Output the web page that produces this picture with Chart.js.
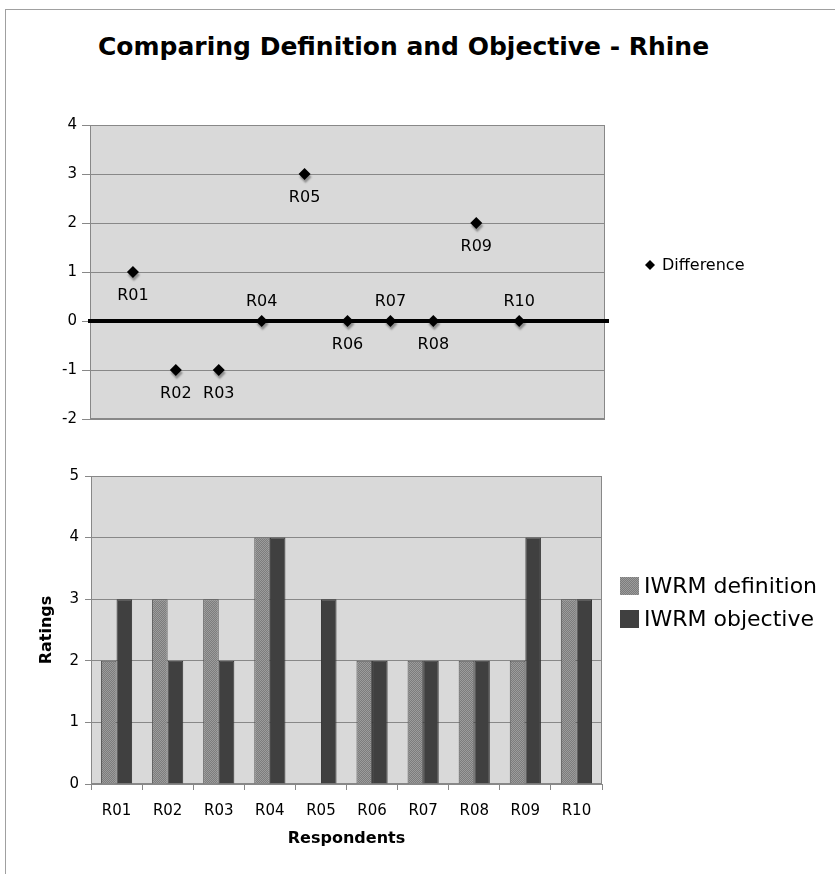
<!DOCTYPE html>
<html>
<head>
<meta charset="utf-8">
<script src="https://cdn.jsdelivr.net/npm/chart.js@4"></script>
<style>
  body { margin: 0; background: #fff; width: 835px; height: 874px; overflow: hidden; position: relative; }
  #frame { position: absolute; left: 5px; top: 9px; width: 900px; height: 900px; border-left: 1px solid #a0a0a0; border-top: 1px solid #a0a0a0; }
  #title { position: absolute; left: 98px; top: 32px; font: bold 25px "DejaVu Sans"; color: #000; white-space: nowrap; }
  #diffWrap { position: absolute; left: 0; top: 0; width: 835px; height: 440px; }
  #barWrap { position: absolute; left: 0; top: 440px; width: 835px; height: 434px; }
</style>
</head>
<body>
<div id="frame"></div>
<div id="title">Comparing Definition and Objective - Rhine</div>
<div id="diffWrap"><canvas id="diffChart" width="835" height="440"></canvas></div>
<div id="barWrap"><canvas id="barChart" width="835" height="434"></canvas></div>

<script>
const respondents = ["R01", "R02", "R03", "R04", "R05", "R06", "R07", "R08", "R09", "R10"];
const difference = [1, -1, -1, 0, 3, 0, 0, 0, 2, 0];
const definition = [2, 3, 3, 4, 0, 2, 2, 2, 2, 3];
const objective = [3, 2, 2, 4, 3, 2, 2, 2, 4, 3];
const diffTicks = [-2, -1, 0, 1, 2, 3, 4];
const ratingTicks = [0, 1, 2, 3, 4, 5];
// where each point label sits relative to its marker
const labelSide = ["below", "below", "below", "above", "below", "below", "above", "below", "below", "above"];

const FONT = '"DejaVu Sans"';
const PLOT_BG = "#d9d9d9";
const GRID = "#888888";

function makeHatch() {
  const c = document.createElement("canvas");
  c.width = 4; c.height = 4;
  const g = c.getContext("2d");
  g.fillStyle = "#9c9c9c";
  g.fillRect(0, 0, 4, 4);
  g.fillStyle = "#7c7c7c";
  for (let i = 0; i < 4; i++) {
    g.fillRect(i, 3 - i, 1, 1);
    g.fillRect(i, (5 - i) % 4, 1, 1);
  }
  return g.createPattern(c, "repeat");
}
const hatch = makeHatch();

function drawPlotBox(chart) {
  const { ctx, chartArea: a } = chart;
  ctx.save();
  ctx.strokeStyle = GRID;
  ctx.lineWidth = 1;
  ctx.strokeRect(a.left + 0.5, a.top + 0.5, a.right - a.left - 1, a.bottom - a.top - 1);
  ctx.restore();
}

const plotBg = {
  id: "plotBg",
  beforeDraw(chart) {
    const { ctx, chartArea: a } = chart;
    ctx.save();
    ctx.fillStyle = PLOT_BG;
    ctx.fillRect(a.left, a.top, a.right - a.left, a.bottom - a.top);
    ctx.restore();
  }
};

// top chart extras: frame, zero line, marker shadow, point labels, legend
const diffExtras = {
  id: "diffExtras",
  beforeDatasetsDraw(chart) {
    const { ctx, chartArea: a, scales } = chart;
    drawPlotBox(chart);
    const y0 = scales.y.getPixelForValue(0);
    ctx.save();
    ctx.strokeStyle = "#000";
    ctx.lineWidth = 4;
    ctx.beginPath();
    ctx.moveTo(a.left - 2, y0);
    ctx.lineTo(a.right + 4, y0);
    ctx.stroke();
    ctx.restore();
    ctx.save();
    ctx.shadowColor = "rgba(0,0,0,0.35)";
    ctx.shadowOffsetX = 1;
    ctx.shadowOffsetY = 3;
    ctx.shadowBlur = 2;
  },
  afterDatasetsDraw(chart) {
    const { ctx, chartArea: a } = chart;
    ctx.restore();
    const meta = chart.getDatasetMeta(0);
    ctx.save();
    ctx.font = "16px " + FONT;
    ctx.fillStyle = "#000";
    ctx.textAlign = "center";
    ctx.textBaseline = "middle";
    meta.data.forEach((pt, i) => {
      const dy = labelSide[i] === "above" ? -19 : 24;
      ctx.fillText(respondents[i], pt.x, pt.y + dy);
    });
    // legend
    const ly = (a.top + a.bottom) / 2 - 7;
    const lx = a.right + 45;
    ctx.beginPath();
    ctx.moveTo(lx, ly - 5);
    ctx.lineTo(lx + 5, ly);
    ctx.lineTo(lx, ly + 5);
    ctx.lineTo(lx - 5, ly);
    ctx.closePath();
    ctx.fill();
    ctx.textAlign = "left";
    ctx.font = "16px " + FONT;
    ctx.fillText("Difference", lx + 12, ly + 1);
    ctx.restore();
  }
};

new Chart(document.getElementById("diffChart"), {
  type: "scatter",
  data: {
    datasets: [{
      label: "Difference",
      data: difference.map((v, i) => ({ x: i + 1, y: v })),
      pointStyle: "rectRot",
      pointRadius: 6,
      backgroundColor: "#000",
      borderColor: "#000",
      borderWidth: 0
    }]
  },
  options: {
    responsive: false,
    animation: false,
    layout: { padding: { top: 125, right: 230, bottom: 21, left: 0 } },
    plugins: { legend: { display: false }, tooltip: { enabled: false } },
    scales: {
      x: { type: "linear", min: 0, max: 12, display: false },
      y: {
        min: diffTicks[0],
        max: diffTicks[diffTicks.length - 1],
        afterBuildTicks: (s) => { s.ticks = diffTicks.map((v) => ({ value: v })); },
        afterFit: (s) => { s.width = 90; },
        ticks: { color: "#000", font: { family: FONT, size: 15 }, padding: 5 },
        grid: { color: GRID, tickLength: 8 },
        border: { color: GRID }
      }
    }
  },
  plugins: [plotBg, diffExtras]
});

// bottom chart extras: frame and legend
const barExtras = {
  id: "barExtras",
  beforeDatasetsDraw(chart) {
    drawPlotBox(chart);
  },
  afterDraw(chart) {
    const { ctx, chartArea: a } = chart;
    const items = [
      { text: "IWRM definition", fill: hatch },
      { text: "IWRM objective", fill: "#404040" }
    ];
    ctx.save();
    ctx.font = "22px " + FONT;
    ctx.textBaseline = "middle";
    items.forEach((it, i) => {
      const cy = a.top + 110 + i * 33;
      const sx = a.right + 18;
      ctx.fillStyle = it.fill;
      ctx.fillRect(sx, cy - 9, 19, 18);
      ctx.fillStyle = "#000";
      ctx.fillText(it.text, sx + 24, cy + 1);
    });
    ctx.restore();
  }
};

new Chart(document.getElementById("barChart"), {
  type: "bar",
  data: {
    labels: respondents,
    datasets: [
      {
        label: "IWRM definition",
        data: definition,
        backgroundColor: hatch,
        borderColor: "#555",
        borderWidth: 1,
        categoryPercentage: 0.61,
        barPercentage: 1.0
      },
      {
        label: "IWRM objective",
        data: objective,
        backgroundColor: "#404040",
        borderColor: "#333",
        borderWidth: 1,
        categoryPercentage: 0.61,
        barPercentage: 1.0
      }
    ]
  },
  options: {
    responsive: false,
    animation: false,
    layout: { padding: { top: 36, right: 233, bottom: 22, left: 0 } },
    plugins: { legend: { display: false }, tooltip: { enabled: false } },
    scales: {
      x: {
        afterFit: (s) => { s.height = 68; },
        ticks: { color: "#000", font: { family: FONT, size: 15 }, padding: 12, maxRotation: 0 },
        grid: { drawOnChartArea: false, color: GRID, tickLength: 6 },
        border: { color: GRID },
        title: {
          display: true,
          text: "Respondents",
          color: "#000",
          font: { family: FONT, size: 16, weight: "bold" },
          padding: { top: 4, bottom: 4 }
        }
      },
      y: {
        min: ratingTicks[0],
        max: ratingTicks[ratingTicks.length - 1],
        afterBuildTicks: (s) => { s.ticks = ratingTicks.map((v) => ({ value: v })); },
        afterFit: (s) => { s.width = 91; },
        ticks: { color: "#000", font: { family: FONT, size: 15 }, padding: 6 },
        grid: { color: GRID, tickLength: 6 },
        border: { color: GRID },
        title: {
          display: true,
          text: "Ratings",
          color: "#000",
          font: { family: FONT, size: 16, weight: "bold" },
          padding: { top: 37, bottom: 0 }
        }
      }
    }
  },
  plugins: [plotBg, barExtras]
});
</script>
</body>
</html>
